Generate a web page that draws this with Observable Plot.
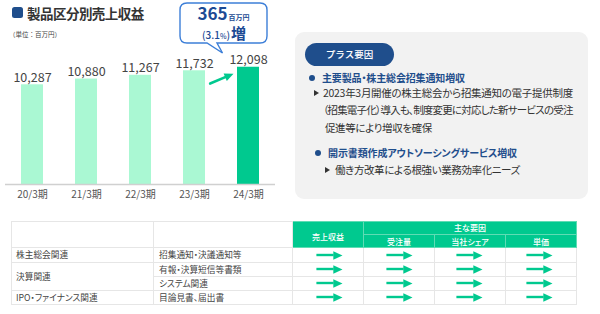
<!DOCTYPE html>
<html><head><meta charset="utf-8">
<script src="https://cdn.jsdelivr.net/npm/d3@7"></script>
<script src="https://cdn.jsdelivr.net/npm/@observablehq/plot@0.6"></script>
<style>
html,body{margin:0;padding:0;background:#fff;}
#root{position:relative;width:600px;height:314px;overflow:hidden;font-family:"Noto Sans CJK JP","Noto Sans",sans-serif;color:#333;background:#fff;}
.abs{position:absolute;white-space:nowrap;}
.pt{font-feature-settings:"palt";}
.tbl{position:absolute;left:11px;top:221px;border-collapse:collapse;table-layout:fixed;width:565px;font-size:8.7px;color:#444;font-feature-settings:"palt";}
.tbl td,.tbl th{border:1px solid #e6e6e6;padding:0;overflow:hidden;white-space:nowrap;line-height:1;}
.tbl th{background:#00c98f;color:#fff;font-weight:500;font-size:8px;border-color:#5fdcb4;text-align:center;vertical-align:middle;}
.tbl td.l{padding-left:4px;padding-top:1px;vertical-align:middle;}
.tbl td.l2{padding-left:5px;padding-top:1px;vertical-align:middle;}
.tri{position:absolute;width:0;height:0;border-left:5px solid #333;border-top:3px solid transparent;border-bottom:3px solid transparent;}
.dotb{position:absolute;width:6px;height:6px;border-radius:50%;background:#1f4e8c;}
</style></head><body><div id="root"></div><script>
// ---------- data ----------
const chartTitle = "製品区分別売上収益";
const unitNote = "（単位：百万円）";
const periods = ["20/3期", "21/3期", "22/3期", "23/3期", "24/3期"];
const revenue = [10287, 10880, 11267, 11732, 12098];
const increaseValue = "365";
const increaseUnit = "百万円";
const increasePct = "3.1";
const increaseWord = "増";
const growthArrowStart = 9730; // start level of the annotation arrow (in revenue units)

const factorTitle = "プラス要因";
const factorHeads = ["主要製品・株主総会招集通知増収", "開示書類作成アウトソーシングサービス増収"];
const factorDetails1 = ["2023年3月開催の株主総会から招集通知の電子提供制度", "（招集電子化）導入も、制度変更に対応した新サービスの受注", "促進等により増収を確保"];
const factorDetails2 = ["働き方改革による根強い業務効率化ニーズ"];

const segments = ["株主総会関連", "決算関連", "決算関連", "IPO・ファイナンス関連"];
const items = ["招集通知・決議通知等", "有報・決算短信等書類", "システム関連", "目論見書、届出書"];
const metricCols = ["売上収益", "受注量", "当社シェア", "単価"];
const factorGroup = "主な要因";
const trends = [
  ["→", "→", "→", "→"],
  ["→", "→", "→", "→"],
  ["→", "→", "→", "→"],
  ["→", "→", "→", "→"]
];

// ---------- layout ----------
const root = document.getElementById("root");
const GREEN = "#00c98f";
const MINT = "#aaf8d3";
const NAVY = "#1f4e8c";
const FONT = '"Noto Sans CJK JP","Noto Sans",sans-serif';

function addDiv(html, css, cls) {
  const d = document.createElement("div");
  d.className = cls || "abs";
  d.innerHTML = html;
  Object.assign(d.style, css);
  root.appendChild(d);
  return d;
}
// stretch/shrink a text line so it spans the same width as in the reference
function fit(d, target) {
  const w = d.getBoundingClientRect().width;
  const n = Array.from(d.textContent).length;
  if (n > 1) d.style.letterSpacing = ((target - w) / (n - 0.5)) + "px";
}

// title
addDiv("", {left: "12px", top: "7px", width: "11px", height: "11px", borderRadius: "2.5px", background: NAVY});
fit(addDiv(chartTitle, {left: "27px", top: "3px", fontSize: "13.5px", fontWeight: "700", lineHeight: "20px", color: "#333"}), 117);
addDiv(unitNote, {left: "9px", top: "29px", fontSize: "6.5px", lineHeight: "10px", color: "#444"});

// arrowhead symbol: tip at origin, pointing +x
const arrowHead = {
  draw(context, size) {
    const r = Math.sqrt(size / Math.PI);
    context.moveTo(0, 0);
    context.lineTo(-2 * r, -0.9 * r);
    context.lineTo(-2 * r, 0.9 * r);
    context.closePath();
  }
};

// ---------- bar chart ----------
const rows = periods.map((p, i) => ({period: p, value: revenue[i]}));
const latest = periods[periods.length - 1];
const prev = periods[periods.length - 2];
const growth = [{from: prev, to: latest, y1: growthArrowStart, y2: revenue[revenue.length - 1]}];

const bar = Plot.plot({
  width: 285, height: 210,
  marginTop: 58, marginBottom: 26, marginLeft: 5, marginRight: 10,
  x: {domain: periods, paddingInner: 0.59, paddingOuter: 0.295, tickSize: 0, tickPadding: 6, label: null},
  y: {domain: [0, 13000], axis: null},
  style: {fontFamily: FONT, fontSize: "10px", color: "#555", background: "transparent", overflow: "visible"},
  marks: [
    Plot.barY(rows, {filter: d => d.period !== latest, x: "period", y: "value", fill: MINT}),
    Plot.barY(rows, {filter: d => d.period === latest, x: "period", y: "value", fill: GREEN}),
    Plot.ruleY([0], {stroke: "#d0d0d0", strokeWidth: 1.5}),
    Plot.text(rows, {x: "period", y: "value", text: d => d3.format(",")(d.value), dy: -3, lineAnchor: "bottom", fontSize: 12.5, fill: "#444"}),
    Plot.arrow(growth, {x1: "from", x2: "to", y1: "y1", y2: "y2", stroke: GREEN, strokeWidth: 2.6, headLength: 0, insetStart: 17, insetEnd: 22}),
    Plot.dot(growth, {x: "to", y: "y2", dx: -15, dy: 6.4, symbol: arrowHead, r: 4.5, fill: GREEN, stroke: "none", rotate: -23.2})
  ]
});
bar.style.position = "absolute";
bar.style.left = "0px";
bar.style.top = "0px";
root.appendChild(bar);

// speech bubble
const ns = "http://www.w3.org/2000/svg";
const bub = document.createElementNS(ns, "svg");
bub.setAttribute("width", 290); bub.setAttribute("height", 60);
Object.assign(bub.style, {position: "absolute", left: "0px", top: "0px", overflow: "visible"});
bub.innerHTML = `
<path d="M187,3 H260 Q267,3 267,10 V36 Q267,43 260,43 H217 L222.5,53 L207,43 H187 Q180,43 180,36 V10 Q180,3 187,3 Z" fill="#fff" stroke="#3d7fd8" stroke-width="1.4"/>
<text x="223.5" y="20" text-anchor="middle" fill="#1c4a94" font-family='${FONT}'><tspan font-size="17" font-weight="700">${increaseValue}</tspan><tspan font-size="7" font-weight="700" dx="1">${increaseUnit}</tspan></text>
<text x="224" y="39" text-anchor="middle" fill="#1c4a94" font-family='${FONT}'><tspan font-size="10" font-weight="500">(${increasePct}</tspan><tspan font-size="7" font-weight="500">%</tspan><tspan font-size="10" font-weight="500">)</tspan><tspan font-size="15" font-weight="700" dx="1">${increaseWord}</tspan></text>`;
root.appendChild(bub);

// ---------- right panel ----------
addDiv("", {left: "295px", top: "32px", width: "293px", height: "167px", borderRadius: "9px", background: "#f2f2f2"});
addDiv(factorTitle, {left: "305px", top: "43px", width: "89px", height: "23px", borderRadius: "12px", background: NAVY, color: "#fff", fontSize: "9.5px", lineHeight: "23px", textAlign: "center", fontWeight: "500"});
addDiv("", {left: "309px", top: "75px"}, "dotb");
fit(addDiv(factorHeads[0], {left: "322px", top: "71px", fontSize: "10px", lineHeight: "14px", fontWeight: "700", color: NAVY}, "abs pt"), 143);
addDiv("", {left: "314px", top: "90px"}, "tri");
const dy1 = [93, 110, 128];
const dx1 = [323, 323, 325];
const dw1 = [250, 250, 107];
factorDetails1.forEach((t, i) => {
  fit(addDiv(t, {left: dx1[i] + "px", top: (dy1[i] - 7) + "px", fontSize: "10.5px", lineHeight: "14px", color: "#333"}, "abs pt"), dw1[i]);
});
addDiv("", {left: "315px", top: "150px"}, "dotb");
fit(addDiv(factorHeads[1], {left: "328px", top: "146px", fontSize: "10px", lineHeight: "14px", fontWeight: "700", color: NAVY}, "abs pt"), 189);
addDiv("", {left: "325px", top: "167px"}, "tri");
fit(addDiv(factorDetails2[0], {left: "335px", top: "163px", fontSize: "10.5px", lineHeight: "14px", color: "#333"}, "abs pt"), 185);

// ---------- table ----------
let html = `<colgroup><col style="width:142px"><col style="width:139px">${metricCols.map(() => '<col style="width:71px">').join("")}</colgroup>`;
html += `<tr style="height:13px"><td rowspan="2"></td><td rowspan="2"></td><th rowspan="2" style="padding-top:4px">${metricCols[0]}</th><th colspan="3">${factorGroup}</th></tr>`;
html += `<tr style="height:13px">${metricCols.slice(1).map(c => `<th style="padding-top:2px">${c}</th>`).join("")}</tr>`;
const rh = [15, 14, 14, 14];
items.forEach((it, i) => {
  let segCell = "";
  if (i === 0 || segments[i] !== segments[i - 1]) {
    let span = 1;
    while (i + span < segments.length && segments[i + span] === segments[i]) span++;
    segCell = `<td class="l" rowspan="${span}">${segments[i]}</td>`;
  }
  html += `<tr style="height:${rh[i]}px">${segCell}<td class="l2">${it}</td>${metricCols.map(() => "<td></td>").join("")}</tr>`;
});
const tbl = document.createElement("table");
tbl.className = "tbl";
tbl.innerHTML = html;
root.appendChild(tbl);

// arrows in the table
const cells = [];
items.forEach((it, i) => metricCols.forEach((c, j) => cells.push({item: it, col: c, trend: trends[i][j]})));
const flat = cells.filter(d => d.trend === "→");
const arrows = Plot.plot({
  width: 600, height: 104, margin: 0,
  x: {domain: metricCols, range: [292, 575], padding: 0, axis: null},
  y: {domain: items, range: [37, 94], padding: 0, axis: null},
  style: {background: "transparent", overflow: "visible"},
  marks: [
    Plot.cell(flat, {x: "col", y: "item", fill: GREEN, insetLeft: 22.4, insetRight: 30.4, insetTop: 5.8, insetBottom: 5.8}),
    Plot.dot(flat, {x: "col", y: "item", dx: 13, symbol: arrowHead, r: 4.6, fill: GREEN, stroke: "none"})
  ]
});
Object.assign(arrows.style, {position: "absolute", left: "0px", top: "210px", pointerEvents: "none"});
root.appendChild(arrows);
</script></body></html>
